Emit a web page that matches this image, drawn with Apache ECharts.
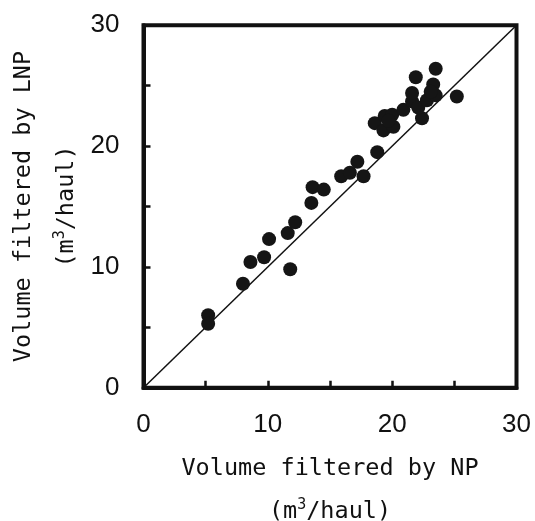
<!DOCTYPE html>
<html>
<head>
<meta charset="utf-8">
<script src="https://cdn.jsdelivr.net/npm/echarts@6/dist/echarts.min.js"></script>
<style>html,body{margin:0;padding:0;background:#fff;}#c{width:535px;height:521px;}</style>
</head>
<body>
<div id="c"></div>
<script>
var npValues = [5.2, 5.2, 8.0, 8.6, 9.7, 10.1, 11.6, 12.2, 11.8, 13.5, 13.6, 14.5, 15.9, 16.6, 17.2, 17.7, 18.8,
  18.6, 19.4, 19.3, 20.0, 20.1, 19.7, 20.9, 21.6, 21.6, 21.9, 22.4, 22.1, 22.8, 23.3, 23.5, 23.5, 25.2, 23.1];
var lnpValues = [6.0, 5.3, 8.6, 10.4, 10.8, 12.3, 12.8, 13.7, 9.8, 15.3, 16.6, 16.4, 17.5, 17.8, 18.7, 17.5, 19.5,
  21.9, 22.5, 21.3, 22.6, 21.6, 22.1, 23.0, 23.7, 24.4, 25.7, 22.3, 23.2, 23.8, 25.1, 24.2, 26.4, 24.1, 24.5];
var oneToOne = [[0, 0], [30, 30]];
var axisMin = 0, axisMax = 30, tickStep = 5, labelStep = 10;
var xTitle = 'Volume filtered by NP';
var yTitle = 'Volume filtered by LNP';
var unitPre = '(m', unitSup = '3', unitPost = '/haul)';

var points = npValues.map(function (v, i) { return [v, lnpValues[i]]; });
var mono = "'DejaVu Sans Mono', 'Liberation Mono', monospace";
var rich = {
  t: { fontFamily: mono, fontSize: 23.5, color: '#111', lineHeight: 43 },
  s: { fontFamily: mono, fontSize: 15, color: '#111', padding: [0, 0, 14, 0] }
};
function axisName(title) {
  return '{t|' + title + '}\n{t|' + unitPre + '}{s|' + unitSup + '}{t|' + unitPost + '}';
}
function labelFmt(v) { return (v % labelStep === 0) ? String(v) : ''; }
var numFont = "'Liberation Sans', Arial, sans-serif";

var chart = echarts.init(document.getElementById('c'), null, { renderer: 'canvas' });
chart.setOption({
  animation: false,
  backgroundColor: '#fff',
  grid: { left: 143.5, right: 18.5, top: 25.3, bottom: 133.3, show: true, borderColor: '#111', borderWidth: 4,
          containLabel: false, outerBoundsMode: 'none' },
  xAxis: {
    type: 'value', min: axisMin, max: axisMax, interval: tickStep,
    splitLine: { show: false },
    axisLine: { show: true, lineStyle: { color: '#111', width: 4 } },
    axisTick: { show: true, inside: true, length: 7, lineStyle: { color: '#111', width: 2.5 } },
    axisLabel: { formatter: labelFmt, margin: 24, fontSize: 26, color: '#111', fontFamily: numFont },
    name: axisName(xTitle), nameLocation: 'middle', nameGap: 60,
    nameTextStyle: { rich: rich }
  },
  yAxis: {
    type: 'value', min: axisMin, max: axisMax, interval: tickStep,
    splitLine: { show: false },
    axisLine: { show: true, lineStyle: { color: '#111', width: 4 } },
    axisTick: { show: true, inside: true, length: 7, lineStyle: { color: '#111', width: 2.5 } },
    axisLabel: { formatter: labelFmt, margin: 24, fontSize: 26, color: '#111', fontFamily: numFont },
    name: axisName(yTitle), nameLocation: 'middle', nameGap: 55,
    nameTextStyle: { rich: rich }
  },
  series: [
    {
      type: 'line', data: oneToOne, symbol: 'none', silent: true,
      lineStyle: { color: '#111', width: 1.5 }, z: 1
    },
    {
      type: 'scatter', data: points, symbol: 'circle', symbolSize: 14,
      itemStyle: { color: '#151515', opacity: 1 }, z: 2
    }
  ]
});
</script>
</body>
</html>
